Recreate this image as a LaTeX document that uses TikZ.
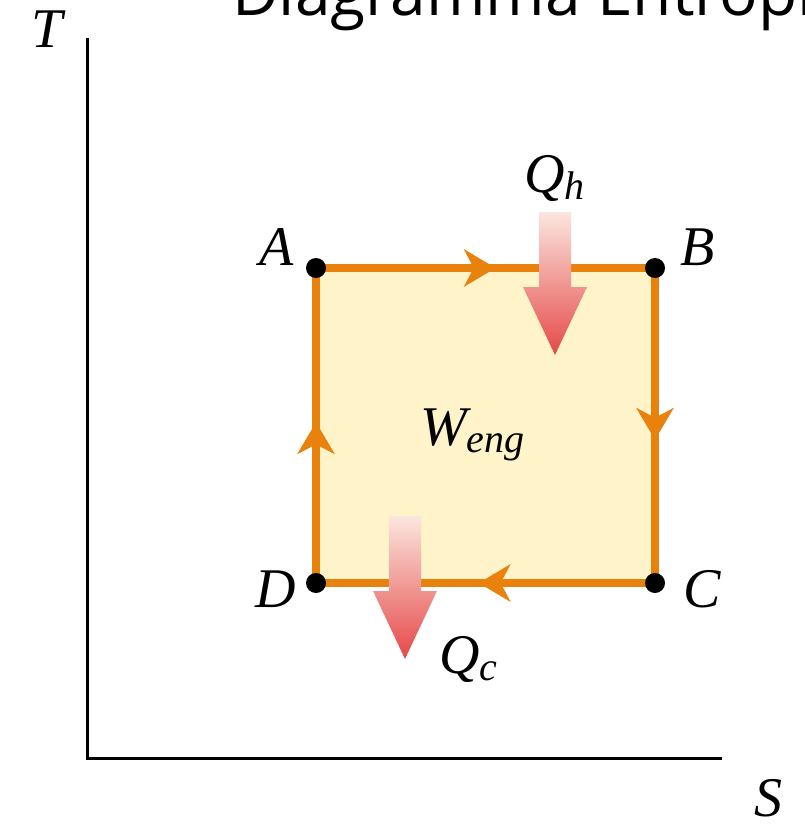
\documentclass[tikz,border=0pt]{standalone}
\usepackage{fontspec}
\setmainfont{Liberation Serif}
\newfontfamily\lblfont{Liberation Serif Italic}
\newfontfamily\titlefont{Open Sans}
\usetikzlibrary{arrows.meta,decorations.markings}
\definecolor{cycorange}{HTML}{E8820C}
\definecolor{cycfill}{HTML}{FEF3C9}
\definecolor{heattop}{HTML}{FBE6DE}
\definecolor{heatbot}{HTML}{E54848}
\newcommand{\sublbl}[2]{#1\raisebox{-0.13em}{\fontsize{40}{40}\selectfont #2}}
\begin{document}
\begin{tikzpicture}[x=1pt,y=-1pt,
  lbl/.style={font=\lblfont\fontsize{56}{56}\selectfont, inner sep=0pt},
  dot/.style={circle,fill=black,inner sep=0pt,minimum size=20pt},
  cycedge/.style={draw=cycorange,line width=7.5pt},
  axisline/.style={line width=3pt,draw=black},
  heat/.style={top color=heattop,bottom color=heatbot},
  flow/.style={postaction={decorate},decoration={markings,mark=at position #1 with {\arrow[cycorange]{Stealth[length=32pt,width=38pt,inset=10pt,line width=0pt]}}}},
]
\useasboundingbox (0,0) rectangle (804,827);
% title (cropped at the top)
\node[font=\titlefont\fontsize{64}{64}\selectfont, anchor=base west, inner sep=0pt] (title) at (232,15) {Diagramma Entropico};
% axes
\coordinate (O) at (87,758);
\coordinate (Ytop) at (87,38);
\coordinate (Xend) at (722,758);
\draw[axisline] (Ytop) -- (O) -- (Xend);
\node[lbl, anchor=base] (Tlab) at (47,47) {T};
\node[lbl, anchor=base] (Slab) at (768,816) {S};
% cycle
\coordinate (A) at (316,268);
\coordinate (B) at (655,268);
\coordinate (C) at (655,583);
\coordinate (D) at (316,583);
\fill[cycfill] (A) rectangle (C);
\draw[cycedge,flow=0.53] (A) -- (B);
\draw[cycedge,flow=0.545] (B) -- (C);
\draw[cycedge,flow=0.52] (C) -- (D);
\draw[cycedge,flow=0.51] (D) -- (A);
% heat arrows
\shade[heat] (539,212) -- (571,212) -- (571,287) -- (587,287) -- (555,355) -- (523,287) -- (539,287) -- cycle;
\shade[heat] (389,516) -- (421,516) -- (421,591) -- (437,591) -- (405,659) -- (373,591) -- (389,591) -- cycle;
% dots
\node[dot] (Adot) at (A) {};
\node[dot] (Bdot) at (B) {};
\node[dot] (Cdot) at (C) {};
\node[dot] (Ddot) at (D) {};
% labels
\node[lbl, anchor=base] (Alab) at (277,265) {A};
\node[lbl, anchor=base] (Blab) at (698,265) {B};
\node[lbl, anchor=base] (Clab) at (702,607) {C};
\node[lbl, anchor=base] (Dlab) at (276,607) {D};
\node[lbl, anchor=base west] (Wlab) at (420,445) {\sublbl{W}{eng}};
\node[lbl, anchor=base west] (Qhlab) at (524,192) {\sublbl{Q}{h}};
\node[lbl, anchor=base west] (Qclab) at (439,673) {\sublbl{Q}{c}};
\end{tikzpicture}
\end{document}
